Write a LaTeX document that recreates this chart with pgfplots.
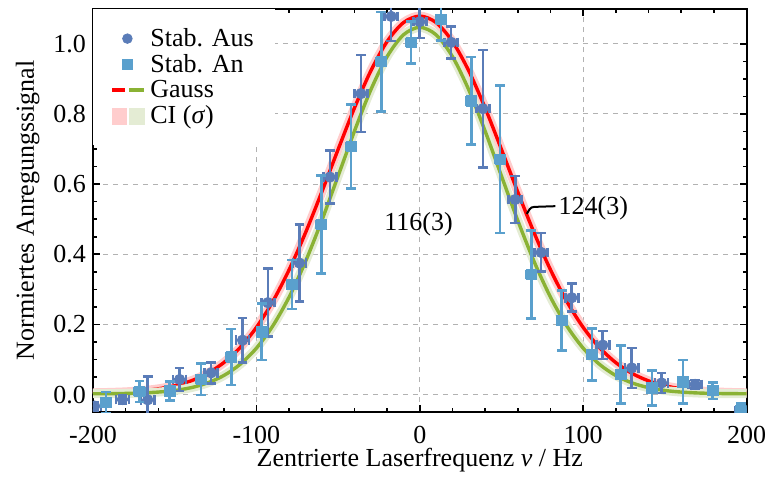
\documentclass[border=0pt]{standalone}
\usepackage{fontspec}
\setmainfont{Liberation Serif}
\usepackage{pgfplots}
\usepackage{pgfplotstable}
\pgfplotsset{compat=1.18}
\definecolor{ausblue}{RGB}{90,124,184}
\definecolor{anblue}{RGB}{90,160,205}
\definecolor{gaussred}{RGB}{255,0,0}
\definecolor{gaussgreen}{RGB}{138,178,52}
\definecolor{pinkband}{RGB}{255,205,205}
\definecolor{greenband}{RGB}{228,236,212}

\pgfplotstableread{
x y ey
-199 -0.033 0.012
-182 -0.014 0.012
-166.5 -0.015 0.066
-147 0.043 0.033
-127.7 0.062 0.030
-108.5 0.155 0.063
-93 0.262 0.097
-73.7 0.375 0.110
-55 0.620 0.075
-36 0.858 0.110
-17.5 1.078 0.070
0 1.063 0.046
19.2 1.004 0.046
38.6 0.815 0.167
58.4 0.556 0.067
74.3 0.405 0.055
93 0.276 0.040
112 0.141 0.040
129.7 0.076 0.057
148 0.033 0.028
168.5 0.029 0.012
197 -0.045 0.012
}\austable

\pgfplotstableread{
x y ey
-192 -0.023 0.030
-171.5 0.009 0.030
-153 0.010 0.027
-133.8 0.044 0.045
-115.4 0.107 0.080
-96.7 0.179 0.080
-78.3 0.314 0.070
-60.3 0.485 0.140
-42 0.707 0.120
-23.6 0.949 0.142
-5.3 1.004 0.060
13.1 1.070 0.060
31.5 0.837 0.125
49.2 0.671 0.210
68.2 0.342 0.125
86.9 0.211 0.085
105.3 0.114 0.074
123 0.057 0.082
142 0.019 0.050
161 0.036 0.062
179.3 0.011 0.024
196.4 -0.045 0.020
}\antable

\pgfplotstableread{
x y
-200 0.0050
-190 0.0060
-180 0.0077
-170 0.0109
-160 0.0163
-150 0.0251
-140 0.0390
-130 0.0601
-120 0.0909
-110 0.1338
-100 0.1914
-90 0.2652
-80 0.3555
-70 0.4607
-60 0.5772
-50 0.6986
-40 0.8169
-30 0.9226
-20 1.0065
-10 1.0604
0 1.0790
10 1.0604
20 1.0065
30 0.9226
40 0.8169
50 0.6986
60 0.5772
70 0.4607
80 0.3555
90 0.2652
100 0.1914
110 0.1338
120 0.0909
130 0.0601
140 0.0390
150 0.0251
160 0.0163
170 0.0109
180 0.0077
190 0.0060
200 0.0050
}\redfit

\pgfplotstableread{
x y
-200 0.0023
-190 0.0026
-180 0.0032
-170 0.0045
-160 0.0071
-150 0.0116
-140 0.0196
-130 0.0330
-120 0.0541
-110 0.0861
-100 0.1322
-90 0.1954
-80 0.2776
-70 0.3787
-60 0.4958
-50 0.6229
-40 0.7509
-30 0.8684
-20 0.9635
-10 1.0255
0 1.0470
10 1.0255
20 0.9635
30 0.8684
40 0.7509
50 0.6229
60 0.4958
70 0.3787
80 0.2776
90 0.1954
100 0.1322
110 0.0861
120 0.0541
130 0.0330
140 0.0196
150 0.0116
160 0.0071
170 0.0045
180 0.0032
190 0.0026
200 0.0023
}\greenfit

\begin{document}
\begin{tikzpicture}[font=\fontsize{13}{15}\selectfont]
\begin{axis}[
  name=ax,
  at={(0,0)}, anchor=south west,
  width=326.8pt, height=201.7pt, scale only axis,
  xmin=-200, xmax=200, ymin=-0.05, ymax=1.1,
  xtick={-200,-100,0,100,200},
  xticklabels={-200,-100,0,100,200},
  ytick={0,0.2,0.4,0.6,0.8,1.0},
  yticklabels={0.0,0.2,0.4,0.6,0.8,1.0},
  minor x tick num=4, minor y tick num=3,
  tick align=inside, tick pos=both,
  major tick length=3.5pt, minor tick length=2pt,
  every tick/.style={black, line width=0.8pt},
  axis line style={line width=1pt},
  grid=major,
  major grid style={gray!60, line width=0.5pt, dash pattern=on 2.5pt off 2.5pt},
  xticklabel style={yshift=-3.5pt},
  xlabel={Zentrierte Laserfrequenz \textit{ν} / Hz},
  ylabel={Normiertes Anregungssignal},
  every axis y label/.style={at={(axis description cs:-0.1,0.5)}, rotate=90, anchor=center},
  every axis x label/.style={at={(axis description cs:0.5,-0.12)}, anchor=center},
  clip marker paths=true,
  legend style={at={(axis description cs:0,1)}, anchor=north west, draw=none, fill=white,
    inner xsep=8.5pt, inner ysep=7.5pt, row sep=-1.5pt,
    cells={anchor=west}},
  legend cell align=left,
]
% CI bands and fits
\addplot[forget plot, pinkband, line width=4.5pt, smooth] table[x=x,y=y] {\redfit};
\addplot[forget plot, gaussred, line width=1.7pt, smooth] table[x=x,y=y] {\redfit};
\addplot[forget plot, greenband, line width=4.5pt, smooth] table[x=x,y=y] {\greenfit};
\addplot[forget plot, gaussgreen, line width=1.7pt, smooth] table[x=x,y=y] {\greenfit};
% data
\addplot[forget plot, only marks, mark=*, mark size=2.6pt, color=ausblue,
  error bars/.cd, y dir=both, y explicit, x dir=both, x fixed=4,
  error bar style={line width=1.3pt, ausblue},
  error mark options={rotate=90, mark size=2.4pt, line width=1.3pt, ausblue}]
  table[x=x, y=y, y error=ey] {\austable};
\addplot[forget plot, only marks, mark=square*, mark size=2.6pt, color=anblue,
  error bars/.cd, y dir=both, y explicit, x dir=both, x fixed=3,
  error bar style={line width=1.3pt, anblue},
  error mark options={rotate=90, mark size=2.4pt, line width=1.3pt, anblue}]
  table[x=x, y=y, y error=ey] {\antable};
% annotations
\node at (axis cs:-0.8,0.485) {116(3)};
\draw[line width=1pt] (axis cs:65.5,0.515) to[out=60,in=180] (axis cs:70,0.535) -- (axis cs:83,0.537);
\node[anchor=west, inner sep=1pt] at (axis cs:83.5,0.53) {124(3)};
% legend
\addlegendimage{legend image code/.code={\fill[ausblue] (7.5pt,0pt) circle (2.4pt);}}
\addlegendentry{Stab. Aus}
\addlegendimage{legend image code/.code={\fill[anblue] (5.1pt,-2.4pt) rectangle (9.9pt,2.4pt);}}
\addlegendentry{Stab. An}
\addlegendimage{legend image code/.code={\draw[gaussred, line width=2pt] (0pt,0pt) -- (6.5pt,0pt); \draw[gaussgreen, line width=2pt] (8.5pt,0pt) -- (16pt,0pt);}}
\addlegendentry{Gauss}
\addlegendimage{legend image code/.code={\fill[pinkband] (0pt,-4pt) rectangle (7pt,4pt); \fill[greenband] (8.5pt,-4pt) rectangle (16pt,4pt);}}
\addlegendentry{CI (\textit{σ})}
\end{axis}
\pgfresetboundingbox
\useasboundingbox (-46.5pt,-32pt) rectangle (337.5pt,206.05pt);
\end{tikzpicture}
\end{document}
